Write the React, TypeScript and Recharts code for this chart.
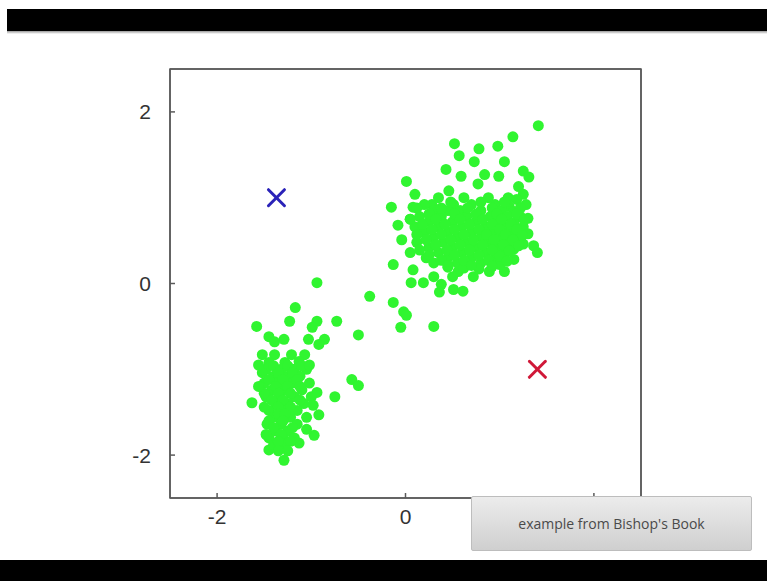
import { ScatterChart, Scatter, XAxis, YAxis, ReferenceArea } from 'recharts'

// points, data units
const upperCluster: [number, number][] = [
  [1.41, 1.84], [1.14, 1.71], [0.98, 1.60], [0.78, 1.57], [0.52, 1.63], [0.57, 1.49], [0.73, 1.42], [1.05, 1.42],
  [0.43, 1.33], [1.25, 1.31], [0.84, 1.27], [0.99, 1.25], [0.59, 1.25], [1.31, 1.24], [0.01, 1.19], [0.77, 1.16],
  [1.20, 1.13], [0.46, 1.08], [0.10, 1.04], [1.09, 1.00], [1.25, 1.04], [-0.15, 0.89], [0.08, 0.89], [0.28, 0.92],
  [0.51, 0.92], [-0.04, 0.51], [-0.13, 0.22], [0.08, 0.16], [0.06, 0.01], [0.22, 0.30], [0.19, 0.01], [0.38, -0.01],
  [0.51, -0.07], [0.36, -0.10], [-0.13, -0.22], [-0.02, -0.33], [0.01, -0.37], [-0.05, -0.51], [0.30, -0.50],
  [1.36, 0.44], [1.40, 0.36], [0.72, 0.08], [0.89, 0.14], [1.05, 0.14], [0.61, -0.09], [0.45, 0.19], [0.56, 0.14],
  [-0.08, 0.68], [0.14, 0.60], [0.05, 0.75],
  [0.35, 1.00], [0.62, 1.00], [0.88, 1.00], [1.18, 0.98],
  [0.20, 0.92], [0.70, 0.92], [0.95, 0.92], [1.10, 0.90], [1.28, 0.92],
  [0.30, 0.85], [0.45, 0.85], [0.58, 0.85], [0.80, 0.85], [1.02, 0.85], [1.15, 0.84],
  [0.15, 0.78], [0.38, 0.78], [0.65, 0.78], [0.90, 0.78], [1.08, 0.78], [1.22, 0.78], [1.30, 0.76],
  [0.25, 0.72], [0.50, 0.72], [0.75, 0.72], [0.98, 0.72], [1.15, 0.71],
  [0.10, 0.66], [0.35, 0.66], [0.60, 0.66], [0.85, 0.66], [1.05, 0.66], [1.25, 0.66],
  [0.20, 0.60], [0.45, 0.60], [0.70, 0.60], [0.92, 0.60], [1.12, 0.60], [1.30, 0.58],
  [0.30, 0.54], [0.55, 0.54], [0.80, 0.54], [1.00, 0.54], [1.18, 0.53],
  [0.12, 0.48], [0.40, 0.48], [0.65, 0.48], [0.88, 0.48], [1.08, 0.48], [1.25, 0.46],
  [0.25, 0.42], [0.50, 0.42], [0.75, 0.42], [0.98, 0.42], [1.15, 0.40],
  [0.05, 0.36], [0.35, 0.36], [0.60, 0.36], [0.85, 0.36], [1.05, 0.34],
  [0.45, 0.30], [0.70, 0.30], [0.95, 0.30], [1.15, 0.28],
  [0.30, 0.24], [0.55, 0.24], [0.80, 0.24], [1.00, 0.22],
  [0.62, 0.18], [0.78, 0.17], [0.30, 0.08], [0.50, 0.08],
  [0.48, 0.95], [0.80, 0.95], [1.05, 0.95],
  [0.12, 0.88], [0.38, 0.88], [0.66, 0.88], [0.92, 0.88], [1.22, 0.88],
  [0.25, 0.81], [0.52, 0.81], [0.75, 0.81], [0.97, 0.81], [1.18, 0.81],
  [0.05, 0.75], [0.32, 0.75], [0.58, 0.75], [0.82, 0.75], [1.02, 0.75], [1.26, 0.74],
  [0.18, 0.69], [0.42, 0.69], [0.68, 0.69], [0.92, 0.69], [1.12, 0.69],
  [0.28, 0.63], [0.52, 0.63], [0.78, 0.63], [1.00, 0.63], [1.18, 0.63],
  [0.12, 0.57], [0.38, 0.57], [0.62, 0.57], [0.86, 0.57], [1.06, 0.57], [1.24, 0.56],
  [0.22, 0.51], [0.48, 0.51], [0.72, 0.51], [0.94, 0.51], [1.14, 0.51],
  [0.32, 0.45], [0.58, 0.45], [0.82, 0.45], [1.04, 0.45], [1.20, 0.44],
  [0.15, 0.39], [0.44, 0.39], [0.68, 0.39], [0.92, 0.39], [1.10, 0.38],
  [0.25, 0.33], [0.52, 0.33], [0.78, 0.33], [1.00, 0.32],
  [0.38, 0.27], [0.62, 0.27], [0.88, 0.27], [1.08, 0.26],
  [0.45, 0.21], [0.70, 0.21], [0.92, 0.20],
]

const lowerCluster: [number, number][] = [
  [-0.94, 0.01], [-1.17, -0.28], [-0.38, -0.15], [-1.58, -0.50], [-1.23, -0.44], [-0.94, -0.44], [-0.73, -0.44],
  [-1.45, -0.62], [-1.29, -0.65], [-0.99, -0.51], [-0.86, -0.65], [-1.03, -0.65], [-0.50, -0.60], [-1.52, -0.83],
  [-1.39, -0.83], [-1.21, -0.83], [-1.07, -0.83], [-1.45, -0.92], [-1.28, -0.92], [-1.13, -0.91], [-1.39, -0.68],
  [-0.92, -0.71], [-0.57, -1.12], [-0.50, -1.19], [-1.63, -1.39], [-0.94, -1.27], [-0.75, -1.32], [-0.97, -1.77],
  [-1.13, -1.86], [-1.29, -2.06], [-0.92, -1.53], [-1.45, -1.94],
  [-1.48, -1.00], [-1.32, -1.00], [-1.18, -1.00], [-1.05, -1.00],
  [-1.40, -1.08], [-1.25, -1.08], [-1.12, -1.08],
  [-1.50, -1.16], [-1.35, -1.16], [-1.20, -1.16], [-1.02, -1.16],
  [-1.42, -1.24], [-1.28, -1.24], [-1.10, -1.24],
  [-1.48, -1.32], [-1.33, -1.32], [-1.18, -1.32], [-1.00, -1.32],
  [-1.38, -1.40], [-1.25, -1.40], [-1.08, -1.40],
  [-1.45, -1.48], [-1.30, -1.48], [-1.15, -1.48],
  [-1.40, -1.56], [-1.22, -1.56], [-1.05, -1.56],
  [-1.47, -1.64], [-1.32, -1.64], [-1.15, -1.64],
  [-1.38, -1.72], [-1.25, -1.72],
  [-1.45, -1.80], [-1.30, -1.80], [-1.18, -1.80],
  [-1.40, -1.88], [-1.28, -1.88],
  [-1.40, -0.96], [-1.25, -0.96], [-1.10, -0.96],
  [-1.52, -1.04], [-1.35, -1.04], [-1.20, -1.04],
  [-1.45, -1.12], [-1.30, -1.12], [-1.15, -1.12],
  [-1.38, -1.20], [-1.25, -1.20], [-1.12, -1.20],
  [-1.50, -1.28], [-1.35, -1.28], [-1.22, -1.28],
  [-1.42, -1.36], [-1.30, -1.36], [-1.12, -1.36],
  [-1.50, -1.44], [-1.35, -1.44], [-1.22, -1.44],
  [-1.35, -1.52], [-1.28, -1.52],
  [-1.45, -1.60], [-1.30, -1.60],
  [-1.40, -1.68], [-1.20, -1.68],
  [-1.32, -1.76], [-1.48, -1.76],
  [-1.35, -1.84], [-1.22, -1.84],
  [-1.35, -1.95], [-1.25, -1.95],
  [-1.02, -0.95], [-0.98, -1.42], [-1.56, -0.95], [-1.56, -1.20], [-1.05, -1.70],
]

const blueCentre = [{ x: -1.37, y: 1.0 }]
const redCentre = [{ x: 1.4, y: -1.0 }]

const xTicks = [-2, 0, 2]
const yTicks = [-2, 0, 2]
const domain: [number, number] = [-2.5, 2.5]

const points = [...upperCluster, ...lowerCluster].map(([x, y]) => ({ x, y }))

const axisLine = { stroke: '#5a5a5a', strokeWidth: 1.5 }
const tickStyle = { fill: '#333', fontSize: 21, fontFamily: 'Liberation Sans, Arial, sans-serif' }

const Dot = (props: any) => <circle cx={props.cx} cy={props.cy} r={5.5} fill="#30f530" />

const cross = (color: string) => (props: any) => {
  const { cx, cy } = props
  const d = 8
  return (
    <g stroke={color} strokeWidth={3} strokeLinecap="round">
      <line x1={cx - d} y1={cy - d} x2={cx + d} y2={cy + d} />
      <line x1={cx - d} y1={cy + d} x2={cx + d} y2={cy - d} />
    </g>
  )
}

export default function App() {
  return (
    <div style={{ position: 'absolute', left: 0, top: 0, width: 767, height: 581, background: '#fff', overflow: 'hidden' }}>
      <div style={{ position: 'absolute', left: 7, top: 9, width: 760, height: 22, background: '#000' }} />
      <div style={{ position: 'absolute', left: 7, top: 31, width: 760, height: 3, background: 'linear-gradient(#999, #fff)' }} />
      <div style={{ position: 'absolute', left: 0, top: 560, width: 767, height: 21, background: '#000' }} />
      <div style={{ position: 'absolute', left: 0, top: 0 }}>
        <ScatterChart width={767} height={581} margin={{ top: 69, right: 126, bottom: 53, left: 110 }}>
          <XAxis xAxisId="b" dataKey="x" type="number" domain={domain} ticks={xTicks} allowDataOverflow
            height={30} axisLine={axisLine} tickLine={axisLine} tickSize={-5} tickMargin={16} tick={tickStyle}
            tickFormatter={(v: number) => (v === 2 ? '' : String(v))} />
          <XAxis xAxisId="t" orientation="top" dataKey="x" type="number" domain={domain} ticks={xTicks} allowDataOverflow
            height={1} mirror axisLine={axisLine} tickLine={axisLine} tickSize={5} tick={false} />
          <YAxis yAxisId="l" dataKey="y" type="number" domain={domain} ticks={yTicks} allowDataOverflow
            width={60} axisLine={axisLine} tickLine={axisLine} tickSize={-5} tickMargin={24} tick={tickStyle} />
          <YAxis yAxisId="r" orientation="right" dataKey="y" type="number" domain={domain} ticks={yTicks} allowDataOverflow
            width={1} mirror axisLine={axisLine} tickLine={axisLine} tickSize={5} tick={false} />
          <ReferenceArea xAxisId="b" yAxisId="l" x1={-2.5} x2={2.5} y1={-2.5} y2={2.5}
            fill="none" stroke="#5a5a5a" strokeWidth={1.5} ifOverflow="visible" />
          <Scatter xAxisId="b" yAxisId="l" data={points} shape={Dot} isAnimationActive={false} />
          <Scatter xAxisId="b" yAxisId="l" data={blueCentre} shape={cross('#2a22b8')} isAnimationActive={false} />
          <Scatter xAxisId="b" yAxisId="l" data={redCentre} shape={cross('#d01838')} isAnimationActive={false} />
        </ScatterChart>
      </div>
      <div style={{
        position: 'absolute', left: 471, top: 496, width: 281, height: 55, boxSizing: 'border-box',
        background: 'linear-gradient(#ececec, #cfcfcf)', border: '1px solid #bdbdbd', borderRadius: 2,
        display: 'flex', alignItems: 'center', justifyContent: 'center',
        fontFamily: '"Open Sans", sans-serif', fontSize: 14, color: '#4a4a4a',
      }}>
        example from Bishop's Book
      </div>
    </div>
  )
}
